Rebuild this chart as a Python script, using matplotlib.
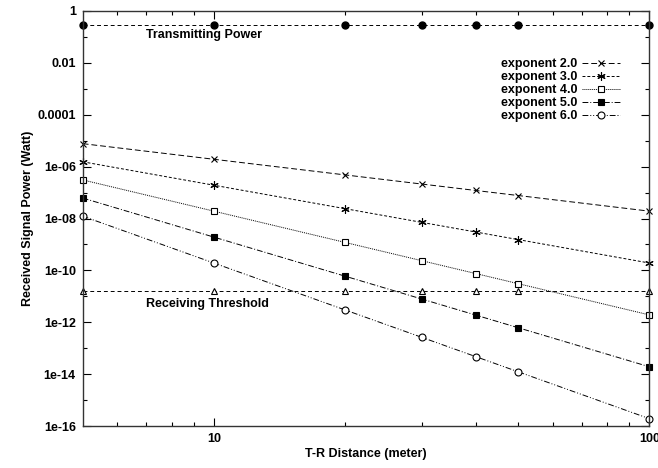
import matplotlib
matplotlib.use("Agg")
import matplotlib.pyplot as plt
from matplotlib.ticker import FixedLocator, FixedFormatter, NullFormatter

plt.rcParams['font.family'] = ['Liberation Sans', 'DejaVu Sans']
plt.rcParams['font.weight'] = 'bold'
plt.rcParams['font.size'] = 9

# distances between transmitter and receiver (m)
distance = [5, 10, 20, 30, 40, 50, 100]

# received power (W) for each path loss exponent
exp2 = [7.691e-6, 1.923e-6, 4.807e-7, 2.136e-7, 1.202e-7, 7.691e-8, 1.923e-8]
exp3 = [1.538e-6, 1.923e-7, 2.403e-8, 7.121e-9, 3.004e-9, 1.538e-9, 1.923e-10]
exp4 = [3.076e-7, 1.923e-8, 1.202e-9, 2.374e-10, 7.511e-11, 3.076e-11, 1.923e-12]
exp5 = [6.153e-8, 1.923e-9, 6.008e-11, 7.912e-12, 1.878e-12, 6.153e-13, 1.923e-14]
exp6 = [1.231e-8, 1.923e-10, 3.004e-12, 2.637e-13, 4.694e-14, 1.231e-14, 1.923e-16]

tx_power = [0.2818] * len(distance)
rx_threshold = [1.55e-11] * len(distance)

labels = ['exponent 2.0', 'exponent 3.0', 'exponent 4.0', 'exponent 5.0', 'exponent 6.0']
ytick_vals = [1, 1e-2, 1e-4, 1e-6, 1e-8, 1e-10, 1e-12, 1e-14, 1e-16]
ytick_text = ['1', '0.01', '0.0001', '1e-06', '1e-08', '1e-10', '1e-12', '1e-14', '1e-16']

fig = plt.figure(figsize=(6.58, 4.68), dpi=100)
ax = fig.add_axes([0.1257, 0.0897, 0.8611, 0.8868])

styles = [
    dict(marker='x', dashes=(6, 3), ms=5),
    dict(marker=(6, 2, 0), dashes=(3, 2), ms=6),
    dict(marker='s', dashes=(1, 1), ms=5, mfc='white'),
    dict(marker='s', dashes=(6, 2, 1, 2), ms=5),
    dict(marker='o', dashes=(6, 2, 1, 2, 1, 2), ms=5, mfc='white'),
]
for vals, lab, st in zip([exp2, exp3, exp4, exp5, exp6], labels, styles):
    st = dict(st)
    mfc = st.pop('mfc', 'black')
    ax.plot(distance, vals, color='black', lw=0.7, mec='black', mfc=mfc,
            mew=0.8, label=lab, clip_on=False, **st)

ax.plot(distance, tx_power, color='black', lw=0.7, dashes=(4, 3), marker='o',
        ms=5, clip_on=False)
ax.plot(distance, rx_threshold, color='black', lw=0.7, dashes=(4, 3), marker='^',
        ms=5, mfc='white', mec='black', mew=0.8, clip_on=False)

ax.text(7.0, 0.12, 'Transmitting Power', fontsize=9, fontweight='bold', va='center')
ax.text(7.0, 5.0e-12, 'Receiving Threshold', fontsize=9, fontweight='bold', va='center')

ax.set_xscale('log')
ax.set_yscale('log')
ax.set_xlim(5, 100)
ax.set_ylim(1e-16, 1)

ax.xaxis.set_major_locator(FixedLocator([10, 100]))
ax.xaxis.set_major_formatter(FixedFormatter(['10', '100']))
ax.xaxis.set_minor_locator(FixedLocator([6, 7, 8, 9, 20, 30, 40, 50, 60, 70, 80, 90]))
ax.xaxis.set_minor_formatter(NullFormatter())
ax.yaxis.set_major_locator(FixedLocator(ytick_vals))
ax.yaxis.set_major_formatter(FixedFormatter(ytick_text))
ax.yaxis.set_minor_locator(FixedLocator([10.0 ** -k for k in range(1, 16, 2)]))
ax.yaxis.set_minor_formatter(NullFormatter())

ax.tick_params(which='both', direction='in', top=True, right=True, width=0.8)
ax.tick_params(which='major', length=6, labelsize=9, pad=5)
ax.tick_params(which='minor', length=3)
for s in ax.spines.values():
    s.set_linewidth(1.0)
    s.set_color('#333333')

ax.set_xlabel('T-R Distance (meter)', fontsize=9, fontweight='bold', labelpad=2)
ax.set_ylabel('Received Signal Power (Watt)', fontsize=9, fontweight='bold', labelpad=2)

leg = ax.legend(loc='upper right', bbox_to_anchor=(0.968, 0.914), frameon=False,
                markerfirst=False, handlelength=3.0, handletextpad=0.4,
                labelspacing=0.08, fontsize=9)
for t in leg.get_texts():
    t.set_ha('right')

fig.savefig('out.png', dpi=100)
